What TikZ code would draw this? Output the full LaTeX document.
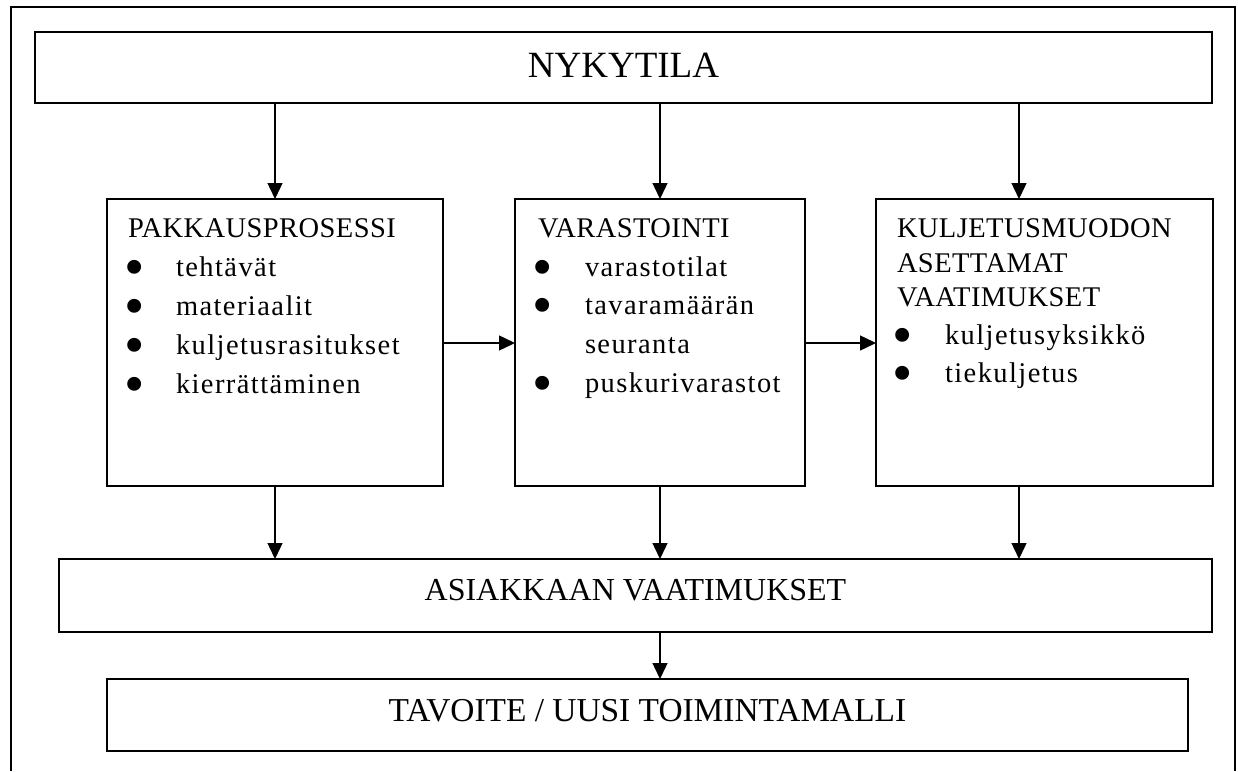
\documentclass[tikz,border=0pt]{standalone}
\usepackage{fontspec}
\setmainfont{Liberation Serif}
\newfontfamily\headfont[LetterSpace=1.5]{Liberation Serif}
\newfontfamily\itemfont[LetterSpace=5]{Liberation Serif}
\usetikzlibrary{arrows.meta}
\tikzset{
  boxnode/.style={draw, line width=1.6pt, inner sep=0pt, outer sep=0pt, fill=none},
  arr/.style={line width=1.4pt, -{Triangle[width=15pt,length=16pt]}},
  txt/.style={anchor=base west, inner sep=0pt, outer sep=0pt, font=\headfont\fontsize{28.5}{30}\selectfont},
  itm/.style={anchor=base west, inner sep=0pt, outer sep=0pt, font=\itemfont\fontsize{28.5}{30}\selectfont},
  bul/.style={anchor=base, inner sep=0pt, outer sep=0pt, font=\fontsize{58}{58}\selectfont},
  bigtxt/.style={anchor=base, inner sep=0pt, outer sep=0pt}
}
\newcommand{\bulletmark}{\smash{•}}
\begin{document}
\begin{tikzpicture}[x=1pt,y=-1pt]
\useasboundingbox (0,0) rectangle (1238,771);
% outer frame (open at bottom)
\draw[line width=1.8pt] (11,771) -- (11,7) -- (1235,7) -- (1235,771);
% boxes
\node[boxnode, minimum width=1177pt, minimum height=71pt] (top) at (623.5,67.5) {};
\node[boxnode, minimum width=336pt, minimum height=287pt] (b1) at (275,342.5) {};
\node[boxnode, minimum width=290pt, minimum height=287pt] (b2) at (660,342.5) {};
\node[boxnode, minimum width=337pt, minimum height=287pt] (b3) at (1044.5,342.5) {};
\node[boxnode, minimum width=1153pt, minimum height=73pt] (ask) at (635.5,595.5) {};
\node[boxnode, minimum width=1081pt, minimum height=72pt] (tav) at (647.5,715) {};
% big texts
\node[bigtxt, font=\fontsize{37}{40}\selectfont] (ttop) at (623.5,77) {NYKYTILA};
\node[bigtxt, font=\fontsize{32}{36}\selectfont] (task) at (635.5,600) {ASIAKKAAN VAATIMUKSET};
\node[bigtxt, font=\fontsize{33.4}{36}\selectfont] (ttav) at (647.5,721) {TAVOITE / UUSI TOIMINTAMALLI};
% box 1 text
\node[txt] (h1) at (128,237) {PAKKAUSPROSESSI};
\node[bul] (p1a) at (135,286) {\bulletmark}; \node[itm] (t1a) at (176,276) {tehtävät};
\node[bul] (p1b) at (135,325) {\bulletmark}; \node[itm] (t1b) at (176,315) {materiaalit};
\node[bul] (p1c) at (135,364) {\bulletmark}; \node[itm] (t1c) at (176,354) {kuljetusrasitukset};
\node[bul] (p1d) at (135,403) {\bulletmark}; \node[itm] (t1d) at (176,393) {kierrättäminen};
% box 2 text
\node[txt] (h2) at (538,237) {VARASTOINTI};
\node[bul] (p2a) at (543,286) {\bulletmark}; \node[itm] (t2a) at (585,276) {varastotilat};
\node[bul] (p2b) at (543,324) {\bulletmark}; \node[itm] (t2b) at (585,314) {tavaramäärän};
\node[itm] (t2c) at (585,353) {seuranta};
\node[bul] (p2d) at (543,402) {\bulletmark}; \node[itm] (t2d) at (585,392) {puskurivarastot};
% box 3 text
\node[txt] (h3a) at (897,237) {KULJETUSMUODON};
\node[txt] (h3b) at (897,272) {ASETTAMAT};
\node[txt] (h3c) at (897,306) {VAATIMUKSET};
\node[bul] (p3a) at (903,354) {\bulletmark}; \node[itm] (t3a) at (945,344) {kuljetusyksikkö};
\node[bul] (p3b) at (903,392) {\bulletmark}; \node[itm] (t3b) at (945,382) {tiekuljetus};
% connector x positions
\coordinate (x1) at (275,0);
\coordinate (x2) at (660,0);
\coordinate (x3) at (1019,0);
\coordinate (yh) at (0,343);
% arrows
\draw[arr] (top.south -| x1) -- (b1.north -| x1);
\draw[arr] (top.south -| x2) -- (b2.north -| x2);
\draw[arr] (top.south -| x3) -- (b3.north -| x3);
\draw[arr] (b1.east |- yh) -- (b2.west |- yh);
\draw[arr] (b2.east |- yh) -- (b3.west |- yh);
\draw[arr] (b1.south -| x1) -- (ask.north -| x1);
\draw[arr] (b2.south -| x2) -- (ask.north -| x2);
\draw[arr] (b3.south -| x3) -- (ask.north -| x3);
\draw[arr] (ask.south -| x2) -- (tav.north -| x2);
\end{tikzpicture}
\end{document}
